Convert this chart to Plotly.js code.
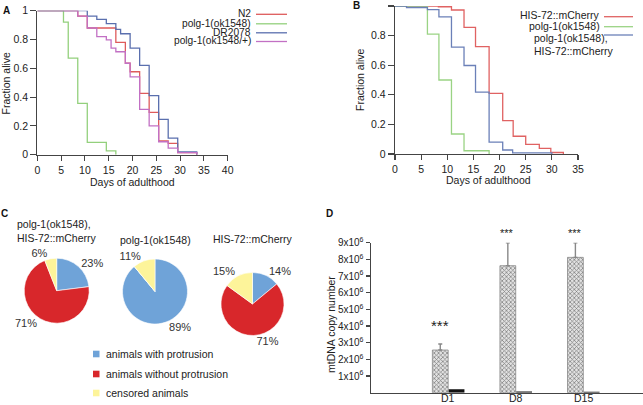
<!DOCTYPE html>
<html><head><meta charset="utf-8">
<script src="https://cdn.plot.ly/plotly-3.0.1.min.js"></script>
<style>html,body{margin:0;padding:0;background:#fff}#chart{width:643px;height:405px}</style>
</head><body><div id="chart"></div>
<script>
// ---------- Panel A: survival ----------
const daysN2 = [0, 8.5, 10.5, 16.5, 18.5, 19.5, 21.5, 23.5, 25.5, 27.5, 29.5, 33.5];
const survN2 = [1, 0.963, 0.88, 0.78, 0.635, 0.576, 0.426, 0.294, 0.095, 0.079, 0.014, 0];
const daysPolgA = [0, 5.5, 6.5, 8.5, 10.5, 14.5, 16.5];
const survPolgA = [1, 0.92, 0.67, 0.357, 0.086, 0.026, 0];
const daysDR = [0, 10.5, 12.5, 14.5, 16.5, 17.5, 19.5, 21.5, 23.5, 25.5, 27.5, 29.5, 33.5];
const survDR = [1, 0.963, 0.94, 0.91, 0.87, 0.84, 0.74, 0.62, 0.41, 0.245, 0.115, 0.02, 0];
const daysHet = [0, 8.5, 10.5, 12.5, 14.5, 15.5, 16.5, 18.5, 19.5, 21.5, 23.5, 25.5, 27.5, 29.5, 33.5];
const survHet = [1, 0.963, 0.88, 0.82, 0.797, 0.74, 0.715, 0.635, 0.54, 0.315, 0.2, 0.09, 0.045, 0.014, 0];
const legendA = ['N2', 'polg-1(ok1548)', 'DR2078', 'polg-1(ok1548/+)'];

// ---------- Panel B: survival ----------
const daysHis = [0, 8.3, 10.8, 13.2, 15.4, 18, 20.6, 22.6, 25, 27.6, 29.8, 32.2];
const survHis = [1, 0.995, 0.973, 0.856, 0.725, 0.41, 0.225, 0.12, 0.065, 0.038, 0.01, 0];
const daysPolgB = [0, 6.2, 8.4, 10.8, 13.2, 18];
const survPolgB = [1, 0.81, 0.5, 0.135, 0.022, 0];
const daysPolgHis = [0, 2.2, 6.2, 8.4, 10.8, 13.2, 15.4, 18, 20.6, 22.5, 30];
const survPolgHis = [1, 0.99, 0.975, 0.926, 0.722, 0.598, 0.418, 0.08, 0.027, 0.007, 0];

// ---------- Panel C: pies ----------
const pieCategories = ['animals with protrusion', 'animals without protrusion', 'censored animals'];
const pieTitles = ['polg-1(ok1548),<br>HIS-72::mCherry', 'polg-1(ok1548)', 'HIS-72::mCherry'];
const piePolgHis = [23, 71, 6];
const piePolg = [89, 0, 11];
const pieHis = [14, 71, 15];

// ---------- Panel D: mtDNA ----------
const dCategories = ['D1', 'D8', 'D15'];
const mtdnaHatched = [2.56e6, 7.62e6, 8.12e6];
const mtdnaHatchedErr = [0.36e6, 1.38e6, 0.88e6];
const mtdnaSolid = [0.2e6, 0.07e6, 0.05e6];
const sigLabels = ['***', '***', '***'];
const dTickVals = [1e6, 2e6, 3e6, 4e6, 5e6, 6e6, 7e6, 8e6, 9e6];
const dTickText = ['1x10<sup>6</sup>','2x10<sup>6</sup>','3x10<sup>6</sup>','4x10<sup>6</sup>','5x10<sup>6</sup>','6x10<sup>6</sup>','7x10<sup>6</sup>','8x10<sup>6</sup>','9x10<sup>6</sup>'];

// ---------- build ----------
const W = 643, H = 405;
const FONT = 'Liberation Sans, Arial, sans-serif';
const TXT = '#222';
const px = v => v / W, py = v => 1 - v / H;

const colA = {red:'#de5b5b', green:'#93d07c', blue:'#5a6fae', pink:'#c270c4'};
const colB = {red:'#e06262', green:'#9ad384', blue:'#6b80b8'};
const pieColors = ['#6fa3d8', '#d8272b', '#fdf49a'];

function line(x, y, color, xa, ya, name) {
  return {type:'scatter', mode:'lines', x:x, y:y, name:name, xaxis:xa, yaxis:ya,
          line:{shape:'hv', color:color, width:1.3}, hoverinfo:'skip', showlegend:false};
}

const traces = [
  line(daysN2, survN2, colA.red, 'x', 'y', legendA[0]),
  line(daysPolgA, survPolgA, colA.green, 'x', 'y', legendA[1]),
  line(daysDR, survDR, colA.blue, 'x', 'y', legendA[2]),
  line(daysHet, survHet, colA.pink, 'x', 'y', legendA[3]),
  line(daysHis, survHis, colB.red, 'x2', 'y2', 'HIS-72::mCherry'),
  line(daysPolgB, survPolgB, colB.green, 'x2', 'y2', 'polg-1(ok1548)'),
  line(daysPolgHis, survPolgHis, colB.blue, 'x2', 'y2', 'polg-1(ok1548), HIS-72::mCherry'),
];

function pie(vals, cx, cy, r) {
  return {type:'pie', labels:pieCategories, values:vals, sort:false, direction:'clockwise', rotation:0,
    marker:{colors:pieColors, line:{color:'#ffffff', width:0.6}},
    texttemplate: vals.map(v => v > 0 ? '%{percent:.0%}' : ''),
    textposition:'outside', textfont:{family:FONT, size:11, color:'#333'},
    domain:{x:[px(cx - r), px(cx + r)], y:[py(cy + r), py(cy - r)]},
    hoverinfo:'skip', showlegend:false};
}
traces.push(pie(piePolgHis, 56.7, 290.7, 32.5));
traces.push(pie(piePolg, 155, 291.5, 32.5));
traces.push(pie(pieHis, 252.5, 304, 31.5));

traces.push({type:'bar', x:dCategories, y:mtdnaHatched, xaxis:'x3', yaxis:'y3',
  marker:{color:'#e4e4e4', pattern:{shape:'x', size:3, solidity:0.4, fgcolor:'#777', bgcolor:'#e2e2e2'},
          line:{color:'#888', width:0.8}},
  error_y:{type:'data', symmetric:false, array:mtdnaHatchedErr, arrayminus:[0,0,0], color:'#888', thickness:1.4, width:2},
  hoverinfo:'skip', showlegend:false});
traces.push({type:'bar', x:dCategories, y:mtdnaSolid, xaxis:'x3', yaxis:'y3',
  marker:{color:'#111'}, hoverinfo:'skip', showlegend:false});

const axBase = {showgrid:false, zeroline:false, showline:true, linecolor:'#444', linewidth:1.2,
  ticks:'outside', tickcolor:'#444', tickwidth:1.1, tickfont:{family:FONT, size:10.5, color:TXT}};

const annotations = [];
const shapes = [];
function ann(text, x, y, o) {
  o = o || {};
  annotations.push(Object.assign({text:text, xref:'paper', yref:'paper', x:px(x), y:py(y),
    xanchor:'center', yanchor:'middle', showarrow:false,
    font:{family:FONT, size:10.5, color:TXT}}, o));
}
function hline(x0, x1, y, color) {
  shapes.push({type:'line', xref:'paper', yref:'paper', x0:px(x0), x1:px(x1), y0:py(y), y1:py(y),
    line:{color:color, width:1.3}});
}

// panel letters
ann('<b>A</b>', 6, 10.5, {font:{family:FONT, size:10, color:'#111'}});
ann('<b>B</b>', 356, 5, {font:{family:FONT, size:10, color:'#111'}});
ann('<b>C</b>', 4.5, 213, {font:{family:FONT, size:10, color:'#111'}});
ann('<b>D</b>', 329, 213, {font:{family:FONT, size:10, color:'#111'}});

// axis titles
ann('Fraction alive', 5.5, 83, {textangle:-90});
ann('Days of adulthood', 132, 182);
ann('Fraction alive', 360, 80, {textangle:-90});
ann('Days of adulthood', 488, 179.5);
ann('mtDNA copy number', 331, 325, {textangle:-90});

// legend A
const legAy = [13.8, 23.3, 32.3, 41];
const legAc = [colA.red, colA.green, colA.blue, colA.pink];
legendA.forEach((t, i) => {
  ann(t, 253, legAy[i], {xanchor:'right', font:{family:FONT, size:10.2, color:TXT}});
  hline(256, 287, legAy[i] + 0.5, legAc[i]);
});
// legend B
ann('HIS-72::mCherry', 602, 15, {xanchor:'right'});
hline(604, 633, 16.7, colB.red);
ann('polg-1(ok1548)', 602, 25.7, {xanchor:'right'});
hline(604, 633, 26.7, colB.green);
ann('polg-1(ok1548),', 531.5, 38, {xanchor:'left'});
ann('HIS-72::mCherry', 531.5, 51, {xanchor:'left'});
hline(604, 633, 35, colB.blue);

// pie titles
ann(pieTitles[0], 15, 231, {xanchor:'left', align:'left'});
ann(pieTitles[1], 155, 240.5);
ann(pieTitles[2], 253, 239);

// pie legend
const legCy = [354, 374, 393];
pieCategories.forEach((t, i) => {
  shapes.push({type:'rect', xref:'paper', yref:'paper', x0:px(93), x1:px(99.5),
    y0:py(legCy[i] + 3.3), y1:py(legCy[i] - 3.3), fillcolor:pieColors[i], line:{width:0}});
  ann(t, 103.5, legCy[i], {xanchor:'left'});
});

// category labels for panel D (placed via the x3 category scale)
dCategories.forEach((c, i) => {
  annotations.push({text:c, xref:'x3', yref:'paper', x:i, y:py(398.2), yanchor:'middle', xanchor:'center',
    showarrow:false, borderpad:0, font:{family:FONT, size:10.5, color:TXT}});
});

// significance stars
sigLabels.forEach((s, i) => {
  const big = i === 0;
  annotations.push({text:s, xref:'x3', yref:'y3', x:i - 0.13, y:mtdnaHatched[i] + mtdnaHatchedErr[i],
    yanchor:'bottom', yshift: big ? 8 : 2, showarrow:false,
    font:{family:FONT, size: big ? 15 : 11, color:'#222'}});
});

const layout = {
  width:W, height:H, margin:{l:0, r:0, t:0, b:0}, paper_bgcolor:'#fff', plot_bgcolor:'rgba(0,0,0,0)',
  showlegend:false, barmode:'group', bargap:0.518, bargroupgap:0.03,
  font:{family:FONT, size:10.5, color:TXT},
  xaxis: Object.assign({}, axBase, {domain:[px(37.3), px(227.7)], range:[0, 40], tickvals:[0,5,10,15,20,25,30,35,40], ticklen:5, anchor:'y'}),
  yaxis: Object.assign({}, axBase, {domain:[py(154.7), py(10.7)], range:[0, 1], tickvals:[0,0.2,0.4,0.6,0.8,1], ticklen:6, anchor:'x'}),
  xaxis2: Object.assign({}, axBase, {domain:[px(395), px(578)], range:[0, 35], tickvals:[0,5,10,15,20,25,30,35], ticklen:5, anchor:'y2'}),
  yaxis2: Object.assign({}, axBase, {domain:[py(154), py(6)], range:[0, 1], tickvals:[0,0.2,0.4,0.6,0.8,1], ticklen:6, anchor:'x2'}),
  xaxis3: Object.assign({}, axBase, {domain:[px(370.7), 1], range:[-1.15, 2.88], type:'category', ticks:'', showticklabels:false, anchor:'y3'}),
  yaxis3: Object.assign({}, axBase, {domain:[py(392.7), py(242.7)], range:[0, 9e6], tickvals:dTickVals, ticktext:dTickText, ticklen:4, anchor:'x3', tickfont:{family:FONT, size:10, color:TXT}}),
  annotations:annotations, shapes:shapes
};

Plotly.newPlot('chart', traces, layout, {staticPlot:true, displayModeBar:false});
</script></body></html>
